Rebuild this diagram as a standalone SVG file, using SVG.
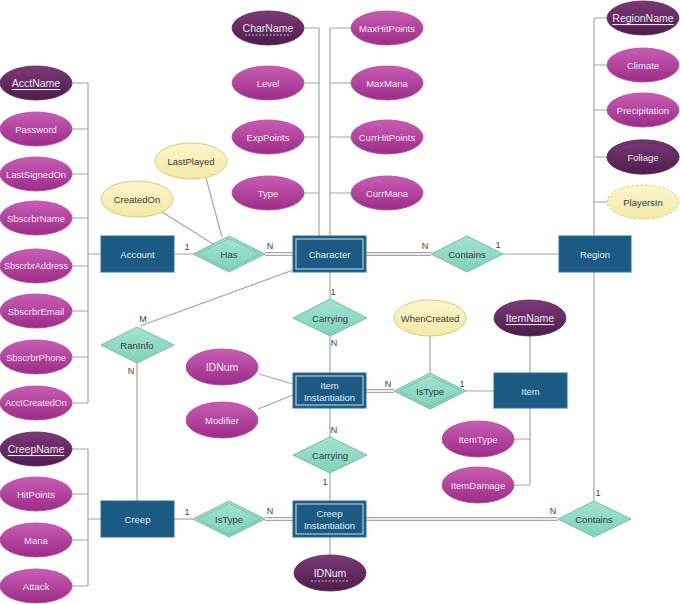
<svg xmlns="http://www.w3.org/2000/svg" width="680" height="604" viewBox="0 0 680 604">
<defs>
<linearGradient id="gAttr" x1="0" y1="0" x2="0" y2="1"><stop offset="0" stop-color="#c95cb3"/><stop offset="1" stop-color="#9b2d87"/></linearGradient>
<linearGradient id="gKey" x1="0" y1="0" x2="0" y2="1"><stop offset="0" stop-color="#7b3a78"/><stop offset="1" stop-color="#4d1c4b"/></linearGradient>
<linearGradient id="gYel" x1="0" y1="0" x2="0" y2="1"><stop offset="0" stop-color="#fbf6cc"/><stop offset="1" stop-color="#f3e9a6"/></linearGradient>
<linearGradient id="gRel" x1="0" y1="0" x2="0" y2="1"><stop offset="0" stop-color="#a3e3d2"/><stop offset="1" stop-color="#7fd2bb"/></linearGradient>
<style>
.ln{stroke:#a6a6a6;stroke-width:1.2;fill:none}
.dbl{stroke:#a6a6a6;stroke-width:4;fill:none}
.dbi{stroke:#ffffff;stroke-width:1.6;fill:none}
.ent{fill:#1b5a82;stroke:#2f6f94;stroke-width:1}
.inner{fill:none;stroke:#cfe0ea;stroke-width:1}
.att{fill:url(#gAttr);stroke:#b04a9c;stroke-width:0.8}
.key{fill:url(#gKey);stroke:#5c2a5a;stroke-width:0.8}
.yel{fill:url(#gYel);stroke:#d9cc7a;stroke-width:1}
.rel{fill:url(#gRel);stroke:#79bba8;stroke-width:1}
text{font-family:"Liberation Sans",Arial,sans-serif;font-size:9.5px;text-anchor:middle;dominant-baseline:central}
.tw{fill:#f0e6f0}
.te{fill:#e6eef4}
.td{fill:#3a3a3a}
.card{fill:#444;font-size:9px}
.ul{text-decoration:underline}
.big{font-size:10.5px}
.sm{font-size:9px}
</style>
</defs>
<g id="connectors">
<path class="ln" d="M88 83V403M72 83H88M72 129H88M72 174H88M72 218H88M72 266H88M72 311H88M72 357H88M72 403H88M88 254H101"/>
<path class="ln" d="M88 449V586M72 449H88M72 494H88M72 540H88M72 586H88M88 519H101"/>
<path class="ln" d="M319 28V236M304 28H319M304 83H319M304 137H319M304 193H319M330 28V236M330 28H351M330 83H351M330 137H351M330 193H351"/>
<path class="ln" d="M594 18V501M594 18H607M594 65H607M594 110H607M594 157H607M594 202H607"/>
<path class="ln" d="M174 254H193M162 212L213 244M206 178L222 237"/>
<path class="dbl" d="M265 254H293"/><path class="dbi" d="M265 254H293"/>
<path class="dbl" d="M366 254H431"/><path class="dbi" d="M366 254H431"/>
<path class="ln" d="M503 254H559"/>
<path class="ln" d="M330 272V299M330 336V373"/>
<path class="ln" d="M140 326L293 270M137 363V501"/>
<path class="ln" d="M259 374L293 384M258 409L293 395"/>
<path class="dbl" d="M366 391H394"/><path class="dbi" d="M366 391H394"/>
<path class="ln" d="M466 391H494M430 336V373M530 336V373M530 408V485M514 439H530M514 485H530"/>
<path class="ln" d="M330 408V437M330 473V501M330 537V555"/>
<path class="ln" d="M174 519H193"/>
<path class="dbl" d="M265 519H293"/><path class="dbi" d="M265 519H293"/>
<path class="dbl" d="M366 519H558"/><path class="dbi" d="M366 519H558"/>
</g>
<g id="cards">
<text class="card" x="187" y="247">1</text>
<text class="card" x="270" y="246">N</text>
<text class="card" x="425" y="246">N</text>
<text class="card" x="498" y="245">1</text>
<text class="card" x="333" y="292">1</text>
<text class="card" x="334" y="343">N</text>
<text class="card" x="143" y="319">M</text>
<text class="card" x="131" y="371">N</text>
<text class="card" x="388" y="384">N</text>
<text class="card" x="462" y="384">1</text>
<text class="card" x="334" y="430">N</text>
<text class="card" x="325" y="482">1</text>
<text class="card" x="187" y="512">1</text>
<text class="card" x="270" y="511">N</text>
<text class="card" x="553" y="511">N</text>
<text class="card" x="598" y="493">1</text>
</g>
<g id="AcctName"><ellipse class="key" cx="36" cy="83" rx="36" ry="17"/><text class="tw ul big" x="36" y="83">AcctName</text></g>
<g id="Password"><ellipse class="att" cx="36" cy="129" rx="36" ry="17"/><text class="tw" x="36" y="129">Password</text></g>
<g id="LastSignedOn"><ellipse class="att" cx="36" cy="174" rx="36" ry="17"/><text class="tw" x="36" y="174">LastSignedOn</text></g>
<g id="SbscrbrName"><ellipse class="att" cx="36" cy="218" rx="36" ry="17"/><text class="tw" x="36" y="218">SbscrbrName</text></g>
<g id="SbscrbrAddress"><ellipse class="att" cx="36" cy="266" rx="36" ry="17"/><text class="tw sm" x="36" y="266">SbscrbrAddress</text></g>
<g id="SbscrbrEmail"><ellipse class="att" cx="36" cy="311" rx="36" ry="17"/><text class="tw" x="36" y="311">SbscrbrEmail</text></g>
<g id="SbscrbrPhone"><ellipse class="att" cx="36" cy="357" rx="36" ry="17"/><text class="tw" x="36" y="357">SbscrbrPhone</text></g>
<g id="AcctCreatedOn"><ellipse class="att" cx="36" cy="403" rx="36" ry="17"/><text class="tw sm" x="36" y="403">AcctCreatedOn</text></g>
<g id="CreepName"><ellipse class="key" cx="36" cy="449" rx="36" ry="17"/><text class="tw ul big" x="36" y="449">CreepName</text></g>
<g id="HitPoints"><ellipse class="att" cx="36" cy="494" rx="36" ry="17"/><text class="tw" x="36" y="494">HitPoints</text></g>
<g id="Mana"><ellipse class="att" cx="36" cy="540" rx="36" ry="17"/><text class="tw" x="36" y="540">Mana</text></g>
<g id="Attack"><ellipse class="att" cx="36" cy="586" rx="36" ry="17"/><text class="tw" x="36" y="586">Attack</text></g>
<g id="CharName"><ellipse class="key" cx="268" cy="28" rx="36" ry="17"/><text class="tw big" x="268" y="28">CharName</text><line x1="245" y1="35" x2="291" y2="35" stroke="#e8d8e8" stroke-width="0.8" stroke-dasharray="2,1.5"/></g>
<g id="Level"><ellipse class="att" cx="268" cy="83" rx="36" ry="17"/><text class="tw" x="268" y="83">Level</text></g>
<g id="ExpPoints"><ellipse class="att" cx="268" cy="137" rx="36" ry="17"/><text class="tw" x="268" y="137">ExpPoints</text></g>
<g id="Type"><ellipse class="att" cx="268" cy="193" rx="36" ry="17"/><text class="tw" x="268" y="193">Type</text></g>
<g id="MaxHitPoints"><ellipse class="att" cx="387" cy="28" rx="36" ry="17"/><text class="tw" x="387" y="28">MaxHitPoints</text></g>
<g id="MaxMana"><ellipse class="att" cx="387" cy="83" rx="36" ry="17"/><text class="tw" x="387" y="83">MaxMana</text></g>
<g id="CurrHitPoints"><ellipse class="att" cx="387" cy="137" rx="36" ry="17"/><text class="tw" x="387" y="137">CurrHitPoints</text></g>
<g id="CurrMana"><ellipse class="att" cx="387" cy="193" rx="36" ry="17"/><text class="tw" x="387" y="193">CurrMana</text></g>
<g id="RegionName"><ellipse class="key" cx="643" cy="18" rx="36" ry="17"/><text class="tw ul big" x="643" y="18">RegionName</text></g>
<g id="Climate"><ellipse class="att" cx="643" cy="65" rx="36" ry="17"/><text class="tw" x="643" y="65">Climate</text></g>
<g id="Precipitation"><ellipse class="att" cx="643" cy="110" rx="36" ry="17"/><text class="tw" x="643" y="110">Precipitation</text></g>
<g id="Foliage"><ellipse class="key" cx="643" cy="157" rx="36" ry="17" stroke="#b08aae" stroke-width="3"/><ellipse cx="643" cy="157" rx="36" ry="17" fill="none" stroke="#5c2a5a" stroke-width="0.8"/><ellipse cx="643" cy="157" rx="33.5" ry="14.5" fill="none" stroke="#5c2a5a" stroke-width="0.8"/><text class="tw" x="643" y="157">Foliage</text></g>
<g id="PlayersIn"><ellipse class="yel" cx="643" cy="202" rx="36" ry="17" stroke-dasharray="2.5,2"/><text class="td" x="643" y="202">PlayersIn</text></g>
<g id="CreatedOn"><ellipse class="yel" cx="137" cy="199" rx="36" ry="18"/><text class="td" x="137" y="199">CreatedOn</text></g>
<g id="LastPlayed"><ellipse class="yel" cx="191" cy="161" rx="36" ry="18"/><text class="td" x="191" y="161">LastPlayed</text></g>
<g id="WhenCreated"><ellipse class="yel" cx="430" cy="318" rx="36" ry="18"/><text class="td" x="430" y="318">WhenCreated</text></g>
<g id="ItemName"><ellipse class="key" cx="530" cy="318" rx="36" ry="18"/><text class="tw ul big" x="530" y="318">ItemName</text></g>
<g id="ItemType"><ellipse class="att" cx="478" cy="439" rx="36" ry="18"/><text class="tw" x="478" y="439">ItemType</text></g>
<g id="ItemDamage"><ellipse class="att" cx="478" cy="485" rx="36" ry="18"/><text class="tw" x="478" y="485">ItemDamage</text></g>
<g id="IDNum1"><ellipse class="att" cx="222" cy="367" rx="36" ry="18"/><text class="tw big" x="222" y="367">IDNum</text></g>
<g id="Modifier"><ellipse class="att" cx="222" cy="420" rx="36" ry="18"/><text class="tw" x="222" y="420">Modifier</text></g>
<g id="IDNum2"><ellipse class="key" cx="330" cy="573" rx="36" ry="18"/><text class="tw big" x="330" y="573">IDNum</text><line x1="311" y1="581" x2="349" y2="581" stroke="#e8d8e8" stroke-width="0.8" stroke-dasharray="2,1.5"/></g>
<g id="Account"><rect class="ent" x="101" y="236" width="73" height="36"/><text class="te" x="137.5" y="254">Account</text></g>
<g id="Character"><rect class="ent" x="293" y="236" width="73" height="36"/><rect class="inner" x="296" y="239" width="67" height="30"/><text class="te" x="329.5" y="254">Character</text></g>
<g id="Region"><rect class="ent" x="559" y="236" width="72" height="36"/><text class="te" x="595" y="254">Region</text></g>
<g id="ItemInstantiation"><rect class="ent" x="293" y="373" width="73" height="35"/><rect class="inner" x="296" y="376" width="67" height="29"/><text class="te" x="329.5" y="385">Item</text><text class="te" x="329.5" y="397">Instantiation</text></g>
<g id="Item"><rect class="ent" x="494" y="373" width="73" height="35"/><text class="te" x="530.5" y="391">Item</text></g>
<g id="Creep"><rect class="ent" x="101" y="501" width="73" height="36"/><text class="te" x="137.5" y="519">Creep</text></g>
<g id="CreepInstantiation"><rect class="ent" x="293" y="501" width="73" height="36"/><rect class="inner" x="296" y="504" width="67" height="30"/><text class="te" x="329.5" y="513">Creep</text><text class="te" x="329.5" y="525">Instantiation</text></g>
<g id="Has"><polygon class="rel" points="193,254 229,236 265,254 229,272"/><polygon points="198,254 229,238.5 260,254 229,269.5" fill="none" stroke="#79bba8" stroke-width="0.8"/><text class="td" x="229" y="254">Has</text></g>
<g id="ContainsTop"><polygon class="rel" points="431,254 467,236 503,254 467,272"/><text class="td" x="467" y="254">Contains</text></g>
<g id="CarryingTop"><polygon class="rel" points="293,318 330,299 367,318 330,336"/><text class="td" x="330" y="318">Carrying</text></g>
<g id="RanInfo"><polygon class="rel" points="101,345 137,327 174,345 137,363"/><text class="td" x="137" y="345">RanInfo</text></g>
<g id="IsTypeItem"><polygon class="rel" points="394,391 430,373 466,391 430,409"/><polygon points="399,391 430,375.5 461,391 430,406.5" fill="none" stroke="#79bba8" stroke-width="0.8"/><text class="td" x="430" y="391">IsType</text></g>
<g id="CarryingBottom"><polygon class="rel" points="293,455 330,437 367,455 330,473"/><text class="td" x="330" y="455">Carrying</text></g>
<g id="IsTypeCreep"><polygon class="rel" points="193,519 229,501 265,519 229,537"/><polygon points="198,519 229,503.5 260,519 229,534.5" fill="none" stroke="#79bba8" stroke-width="0.8"/><text class="td" x="229" y="519">IsType</text></g>
<g id="ContainsBottom"><polygon class="rel" points="558,519 594,501 631,519 594,537"/><text class="td" x="594" y="519">Contains</text></g>
</svg>
